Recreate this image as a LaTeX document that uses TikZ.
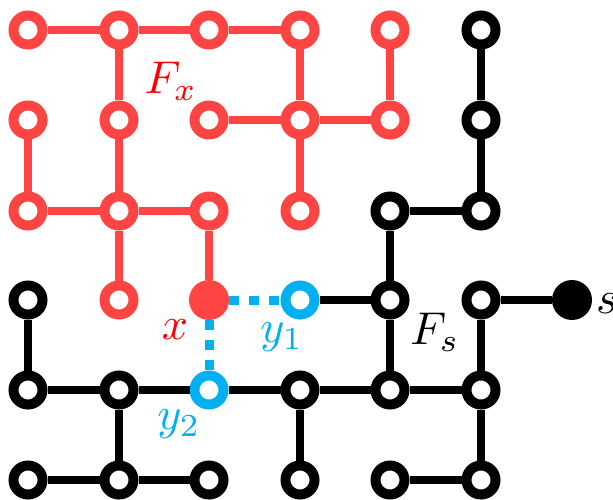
\documentclass[tikz,border=0pt]{standalone}
\usepackage{graphicx}
\definecolor{fred}{RGB}{255,68,68}
\definecolor{tred}{RGB}{255,0,0}
\definecolor{cblue}{RGB}{0,176,240}
\newcommand{\bigmath}[1]{\scalebox{4.6}{$#1$}}
\begin{document}
\begin{tikzpicture}[x=1pt,y=-1pt,
  vtx/.style={circle,draw=#1,line width=10pt,fill=white,minimum size=29pt,inner sep=0pt},
  fullvtx/.style={circle,fill=#1,minimum size=40pt,inner sep=0pt,outer sep=0pt},
  link/.style={draw=#1,line width=8pt},
  dotlink/.style={draw=cblue,line width=9pt,dash pattern=on 10pt off 10pt},
  lbl/.style={inner sep=0pt},
]
\useasboundingbox (0,0) rectangle (613,500);
% red tree F_x
\node[vtx=fred] (v00) at (28,30) {};
\node[vtx=fred] (v10) at (119,30) {};
\node[vtx=fred] (v20) at (209,30) {};
\node[vtx=fred] (v30) at (300,30) {};
\node[vtx=fred] (v40) at (390,30) {};
\node[vtx=fred] (v01) at (28,120) {};
\node[vtx=fred] (v11) at (119,120) {};
\node[vtx=fred] (v21) at (209,120) {};
\node[vtx=fred] (v31) at (300,120) {};
\node[vtx=fred] (v41) at (390,120) {};
\node[vtx=fred] (v02) at (28,211) {};
\node[vtx=fred] (v12) at (119,211) {};
\node[vtx=fred] (v22) at (209,211) {};
\node[vtx=fred] (v32) at (300,211) {};
\node[vtx=fred] (v13) at (119,300) {};
\node[fullvtx=fred] (v23) at (209,300) {};
% blue
\node[vtx=cblue] (v33) at (300,300) {};
\node[vtx=cblue] (v24) at (209,390) {};
% black tree F_s
\node[vtx=black] (v50) at (481,30) {};
\node[vtx=black] (v51) at (481,120) {};
\node[vtx=black] (v42) at (390,211) {};
\node[vtx=black] (v52) at (481,211) {};
\node[vtx=black] (v03) at (28,300) {};
\node[vtx=black] (v43) at (390,300) {};
\node[vtx=black] (v53) at (481,300) {};
\node[fullvtx=black] (v63) at (572,300) {};
\node[vtx=black] (v04) at (28,390) {};
\node[vtx=black] (v14) at (119,390) {};
\node[vtx=black] (v34) at (300,390) {};
\node[vtx=black] (v44) at (390,390) {};
\node[vtx=black] (v54) at (481,390) {};
\node[vtx=black] (v05) at (28,480) {};
\node[vtx=black] (v15) at (119,480) {};
\node[vtx=black] (v25) at (209,480) {};
\node[vtx=black] (v35) at (300,480) {};
\node[vtx=black] (v45) at (390,480) {};
\node[vtx=black] (v55) at (481,480) {};
% red edges
\path[link=fred] (v00)--(v10) (v10)--(v20) (v20)--(v30)
  (v10)--(v11) (v11)--(v12) (v12)--(v13)
  (v30)--(v31) (v31)--(v32) (v40)--(v41)
  (v21)--(v31) (v31)--(v41)
  (v01)--(v02) (v02)--(v12) (v12)--(v22) (v22)--(v23);
% black edges
\path[link=black] (v50)--(v51) (v51)--(v52) (v42)--(v52)
  (v42)--(v43) (v43)--(v44) (v33)--(v43)
  (v53)--(v63) (v53)--(v54) (v54)--(v55)
  (v03)--(v04) (v04)--(v14) (v14)--(v24) (v24)--(v34) (v34)--(v44) (v44)--(v54)
  (v14)--(v15) (v05)--(v15) (v15)--(v25) (v34)--(v35) (v45)--(v55);
% dotted blue edges
\path[dotlink] (v23)--(v33) (v23)--(v24);
% labels
\node[lbl,text=tred] (lfx) at (171,81) {\bigmath{F_x}};
\node[lbl,text=tred] (lx) at (175,330) {\bigmath{x}};
\node[lbl,text=cblue] (ly1) at (282,337) {\bigmath{y_1}};
\node[lbl,text=cblue] (ly2) at (179,424) {\bigmath{y_2}};
\node[lbl,text=black] (lfs) at (435,332) {\bigmath{F_s}};
\node[lbl,text=black,anchor=base west] (ls) at (596,313) {\bigmath{s}};
\end{tikzpicture}
\end{document}
